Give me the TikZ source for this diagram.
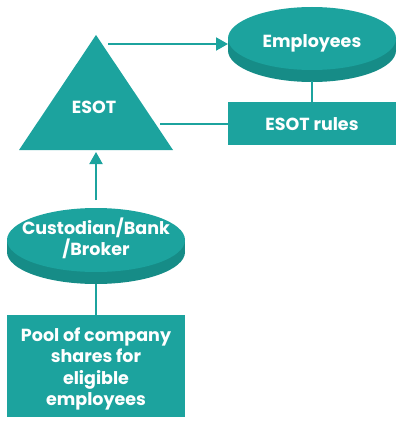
\documentclass[tikz,border=0pt]{standalone}
\usepackage{fontspec}
\setmainfont{Poppins}
\usetikzlibrary{arrows.meta}
\definecolor{teal1}{HTML}{1CA39E}
\definecolor{teal2}{HTML}{168C87}
\begin{document}
\begin{tikzpicture}[x=1pt,y=-1pt,
  lbl/.style={text=white,font=\bfseries\fontsize{17.5}{21.3}\selectfont,align=center,inner sep=0pt},
  conn/.style={draw=teal1,line width=2pt},
  arr/.style={conn,-{Triangle[width=13pt,length=12pt]}}]
\useasboundingbox (0,0) rectangle (400,425);
% triangle
\fill[teal1] (96,35) -- (173,150) -- (19,150) -- cycle;
\node[lbl] (esot) at (94,107) {ESOT};
% Employees disk
\fill[teal2] (312,50.5) ellipse [x radius=84, y radius=31.5];
\fill[teal2] (228,38.5) rectangle (396,50.5);
\fill[teal1] (312,38.5) ellipse [x radius=84, y radius=31.5];
\node[lbl] (emp) at (312,43) {Employees};
\coordinate (empbot) at (312,81);
% ESOT rules
\fill[teal1] (228,102) rectangle (396,145);
\node[lbl] (rules) at (312,124) {ESOT rules};
\coordinate (rulestop) at (312,102);
\coordinate (rulesleft) at (228,124);
% Custodian disk
\fill[teal2] (96,252) ellipse [x radius=89, y radius=32];
\fill[teal2] (7,240) rectangle (185,252);
\fill[teal1] (96,240) ellipse [x radius=89, y radius=32];
\node[lbl] (cust) at (96,238) {Custodian/Bank\\/Broker};
\coordinate (custtop) at (96,200);
\coordinate (custbot) at (96,284);
% Pool
\fill[teal1] (7,315) rectangle (185,417);
\node[lbl] (pool) at (96,369) {Pool of company\\shares for\\eligible\\employees};
\coordinate (pooltop) at (96,315);
% connectors
\coordinate (apexr) at (108,44);
\coordinate (empleft) at (228,44);
\coordinate (triright) at (160,124);
\coordinate (tribase) at (96,152);
\draw[arr] (apexr) -- (empleft);
\draw[conn] (empbot) -- (rulestop);
\draw[conn] (rulesleft) -- (triright);
\draw[arr] (custtop) -- (tribase);
\draw[conn] (custbot) -- (pooltop);
\end{tikzpicture}
\end{document}
